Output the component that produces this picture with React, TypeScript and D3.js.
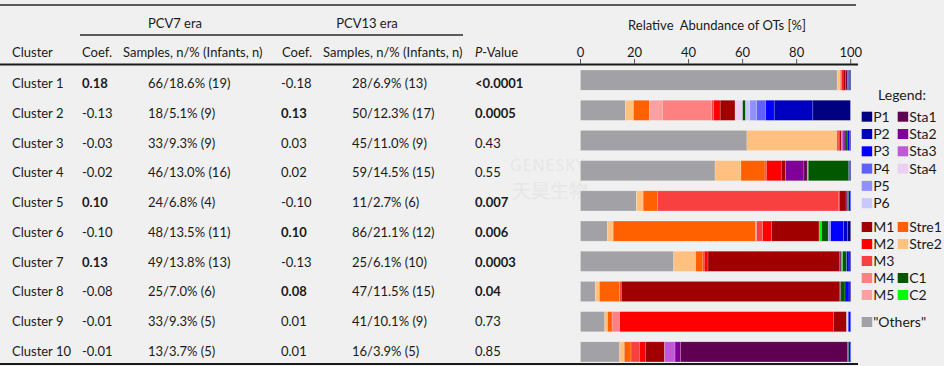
import React, { useEffect } from "react";
import * as d3 from "d3";

// ---------- table data ----------
const clusters = ["Cluster 1", "Cluster 2", "Cluster 3", "Cluster 4", "Cluster 5", "Cluster 6", "Cluster 7", "Cluster 8", "Cluster 9", "Cluster 10"];
const pcv7Coef = [0.18, -0.13, -0.03, -0.02, 0.10, -0.10, 0.13, -0.08, -0.01, -0.01];
const pcv7Samples = ["66/18.6% (19)", "18/5.1% (9)", "33/9.3% (9)", " 46/13.0% (16)", "24/6.8% (4)", " 48/13.5% (11)", " 49/13.8% (13)", "25/7.0% (6)", "33/9.3% (5)", "13/3.7% (5)"];
const pcv13Coef = [-0.18, 0.13, 0.03, 0.02, -0.10, 0.10, -0.13, 0.08, 0.01, 0.01];
const pcv13Samples = ["28/6.9% (13)", "50/12.3% (17)", "45/11.0% (9)", "59/14.5% (15)", "11/2.7% (6)", "86/21.1% (12)", "25/6.1% (10)", "47/11.5% (15)", "41/10.1% (9)", "16/3.9% (5)"];
const pValues = ["<0.0001", "0.0005", "0.43", "0.55", "0.007", "0.006", "0.0003", "0.04", "0.73", "0.85"];
const axisTicks = [0, 20, 40, 60, 80, 100];

// ---------- relative abundance of OTs [%] per cluster (stack order) ----------
const others = [95.0, 16.6, 61.6, 49.8, 20.7, 10.0, 34.5, 5.5, 9.0, 14.5];
const stre2 = [1.0, 3.0, 33.2, 9.6, 2.5, 2.1, 8.1, 1.5, 1.0, 1.7];
const stre1 = [0.3, 5.9, 0.6, 8.9, 5.4, 52.7, 2.7, 7.5, 1.7, 2.5];
const m5 = [0, 4.8, 0, 0, 0, 0, 0, 0, 0, 0];
const m4 = [0, 18.2, 0, 0, 0, 0.4, 0, 0, 2.8, 0];
const m3 = [0.3, 0.7, 0, 0.5, 66.9, 2.2, 0.5, 0.6, 0, 3.1];
const m2 = [0.6, 2.5, 0.6, 5.5, 0.3, 3.3, 1.4, 0, 79.1, 2.2];
const m1 = [1.0, 5.5, 0.6, 1.6, 2.5, 17.6, 48.6, 80.9, 4.9, 7.1];
const sta4 = [0, 2.8, 0, 0, 0, 0, 0, 0, 0.6, 0];
const sta3 = [0, 0, 0.6, 0, 0, 0, 0, 0, 0, 3.9];
const sta2 = [0, 0, 0.7, 6.8, 0, 0, 0, 0, 0, 2.1];
const sta1 = [0.6, 0, 0, 1.2, 0.6, 0, 0.6, 0.3, 0, 61.7];
const c2 = [0, 0, 0, 0.4, 0, 0.9, 0.6, 0, 0, 0];
const c1 = [0.4, 1.1, 0.8, 15.0, 0.4, 2.5, 1.5, 1.6, 0, 0.5];
const p6 = [0, 1.6, 0, 0, 0, 0, 0, 0, 0, 0];
const p5 = [0, 2.5, 0, 0, 0, 0.9, 0, 0, 0, 0];
const p4 = [0, 3.3, 0, 0, 0, 0, 0, 0, 0, 0];
const p3 = [0.3, 3.2, 0.8, 0.3, 0.7, 4.7, 0.9, 1.5, 0.9, 0.7];
const p2 = [0, 14.3, 0, 0, 0, 1.6, 0, 0, 0, 0];
const p1 = [0.5, 13.9, 0.5, 0.4, 0, 1.1, 0.6, 0.6, 0, 0];

const otKeys = ["Others", "Stre2", "Stre1", "M5", "M4", "M3", "M2", "M1", "Sta4", "Sta3", "Sta2", "Sta1", "C2", "C1", "P6", "P5", "P4", "P3", "P2", "P1"];
const otSeries: Record<string, number[]> = {
  Others: others, Stre2: stre2, Stre1: stre1, M5: m5, M4: m4, M3: m3, M2: m2, M1: m1,
  Sta4: sta4, Sta3: sta3, Sta2: sta2, Sta1: sta1, C2: c2, C1: c1,
  P6: p6, P5: p5, P4: p4, P3: p3, P2: p2, P1: p1,
};
const otColors: Record<string, string> = {
  P1: "#000080", P2: "#0000c0", P3: "#0000ff", P4: "#6060ff", P5: "#9090ff", P6: "#c8c8ff",
  Sta1: "#600050", Sta2: "#800098", Sta3: "#c058d8", Sta4: "#ecd0f4",
  M1: "#a00000", M2: "#ff0000", M3: "#f84040", M4: "#ff8080", M5: "#ffa0a0",
  Stre1: "#ff6000", Stre2: "#ffc080", C1: "#005800", C2: "#00ff00", Others: "#a2a1a5",
};

// legend layout groups (columns of keys)
const legendP = ["P1", "P2", "P3", "P4", "P5", "P6"];
const legendSta = ["Sta1", "Sta2", "Sta3", "Sta4"];
const legendM = ["M1", "M2", "M3", "M4", "M5"];
const legendStre = ["Stre1", "Stre2"];
const legendC = ["C1", "C2"];

const FONT = "Lato, 'Open Sans', sans-serif";
const TXT = "#1a1a1a";

export default function App() {
  useEffect(() => {
    document.body.style.margin = "0";
    document.body.style.background = "#f0f0f0";
  }, []);

  const x = d3.scaleLinear().domain([0, 100]).range([580.5, 850.7]);
  const yBar = d3.scaleBand<string>().domain(clusters).range([65, 367]).paddingInner(1 / 3).paddingOuter(1 / 6);
  const yText = d3.scalePoint<string>().domain(clusters).range([88, 356]);
  const fmt = d3.formatLocale({ decimal: ".", thousands: ",", grouping: [3], currency: ["", ""], minus: "-" }).format(".2f");

  const table = clusters.map((c, i) => {
    const row: Record<string, any> = { cluster: c };
    otKeys.forEach((k) => (row[k] = otSeries[k][i]));
    return row;
  });
  const stacked = d3.stack<Record<string, any>>().keys(otKeys)(table);

  const pNum = pValues.map((p) => parseFloat(p.replace("<", "")));
  const sig = pNum.map((p) => p < 0.05);

  const legRowP = d3.scaleLinear().domain([0, 1]).range([116.7, 134]);
  const legRowM = d3.scaleLinear().domain([0, 1]).range([227, 244]);

  const legendItem = (k: string, cx: number, cy: number) => (
    <g key={k}>
      <rect x={cx} y={cy - 5} width={10.5} height={10} fill={otColors[k]} />
      <text x={cx + 11.5} y={cy + 5} fontSize={14} fill={TXT}>{k}</text>
    </g>
  );

  return (
    <svg width={944} height={366} style={{ display: "block", background: "#f0f0f0", fontFamily: FONT }}>
      {/* watermark */}
      <g fill="#e6e6e6" textAnchor="middle">
        <text x={548} y={171} fontSize={16} fontFamily="'Open Sans', sans-serif" letterSpacing={1}>GENESKY</text>
        <text x={550} y={198} fontSize={19} fontFamily="'Noto Sans CJK SC', sans-serif">天昊生物</text>
      </g>

      {/* rules */}
      <line x1={0} x2={856} y1={5} y2={5} stroke="#2a2a2a" strokeWidth={1.3} />
      <line x1={80} x2={463} y1={35} y2={35} stroke="#2a2a2a" strokeWidth={1.3} />
      <line x1={0} x2={858} y1={64.5} y2={64.5} stroke="#1a1a1a" strokeWidth={2} />
      <line x1={0} x2={858} y1={364} y2={364} stroke="#1a1a1a" strokeWidth={2} />

      {/* header */}
      <g fontSize={13} fill={TXT}>
        <text x={175} y={28} textAnchor="middle">PCV7 era</text>
        <text x={367} y={28} textAnchor="middle">PCV13 era</text>
        <text x={12} y={57}>Cluster</text>
        <text x={82} y={57}>Coef.</text>
        <text x={123} y={57}>Samples, n/% (Infants, n)</text>
        <text x={282} y={57}>Coef.</text>
        <text x={323} y={57}>Samples, n/% (Infants, n)</text>
        <text x={475} y={57}><tspan fontStyle="italic">P</tspan>-Value</text>
        <text x={717} y={30} textAnchor="middle" style={{ whiteSpace: "pre" }}>Relative  Abundance of OTs [%]</text>
      </g>

      {/* axis ticks */}
      <g fontSize={13} fill={TXT}>
        {axisTicks.map((t) => (
          <g key={t}>
            <line x1={x(t)} x2={x(t)} y1={59} y2={64} stroke="#555" strokeWidth={1} />
            <text x={x(t)} y={57} textAnchor="middle">{t}</text>
          </g>
        ))}
      </g>

      {/* table rows */}
      <g fontSize={13} fill={TXT} style={{ whiteSpace: "pre" }}>
        {clusters.map((c, i) => {
          const y = yText(c)!;
          return (
            <g key={c}>
              <text x={12} y={y}>{c}</text>
              <text x={82} y={y} fontWeight={sig[i] && pcv7Coef[i] > 0 ? 700 : 400}>{fmt(pcv7Coef[i])}</text>
              <text x={148} y={y}>{pcv7Samples[i]}</text>
              <text x={281} y={y} fontWeight={sig[i] && pcv13Coef[i] > 0 ? 700 : 400}>{fmt(pcv13Coef[i])}</text>
              <text x={352} y={y}>{pcv13Samples[i]}</text>
              <text x={475} y={y} fontWeight={sig[i] ? 700 : 400}>{pValues[i]}</text>
            </g>
          );
        })}
      </g>

      {/* stacked bars */}
      <g>
        {stacked.map((s) => (
          <g key={s.key} fill={otColors[s.key]}>
            {s.map((d, i) =>
              d[1] - d[0] > 0 ? (
                <rect
                  key={i}
                  x={x(d[0])}
                  y={yBar(clusters[i])!}
                  width={x(d[1]) - x(d[0])}
                  height={yBar.bandwidth()}
                  stroke="rgba(255,255,255,0.3)"
                  strokeWidth={0.6}
                />
              ) : null
            )}
          </g>
        ))}
      </g>

      {/* legend */}
      <g>
        <text x={902} y={100} textAnchor="middle" fontSize={14} fill={TXT}>Legend:</text>
        {legendP.map((k, i) => legendItem(k, 861.7, legRowP(i)))}
        {legendSta.map((k, i) => legendItem(k, 897.7, legRowP(i)))}
        {legendM.map((k, i) => legendItem(k, 861.7, legRowM(i)))}
        {legendStre.map((k, i) => legendItem(k, 897.7, legRowM(i)))}
        {legendC.map((k, i) => legendItem(k, 897.7, legRowM(i + 3)))}
        <g>
          <rect x={861.7} y={317} width={10.5} height={10} fill={otColors.Others} />
          <text x={873.2} y={327} fontSize={14} fill={TXT}>"Others"</text>
        </g>
      </g>
    </svg>
  );
}
